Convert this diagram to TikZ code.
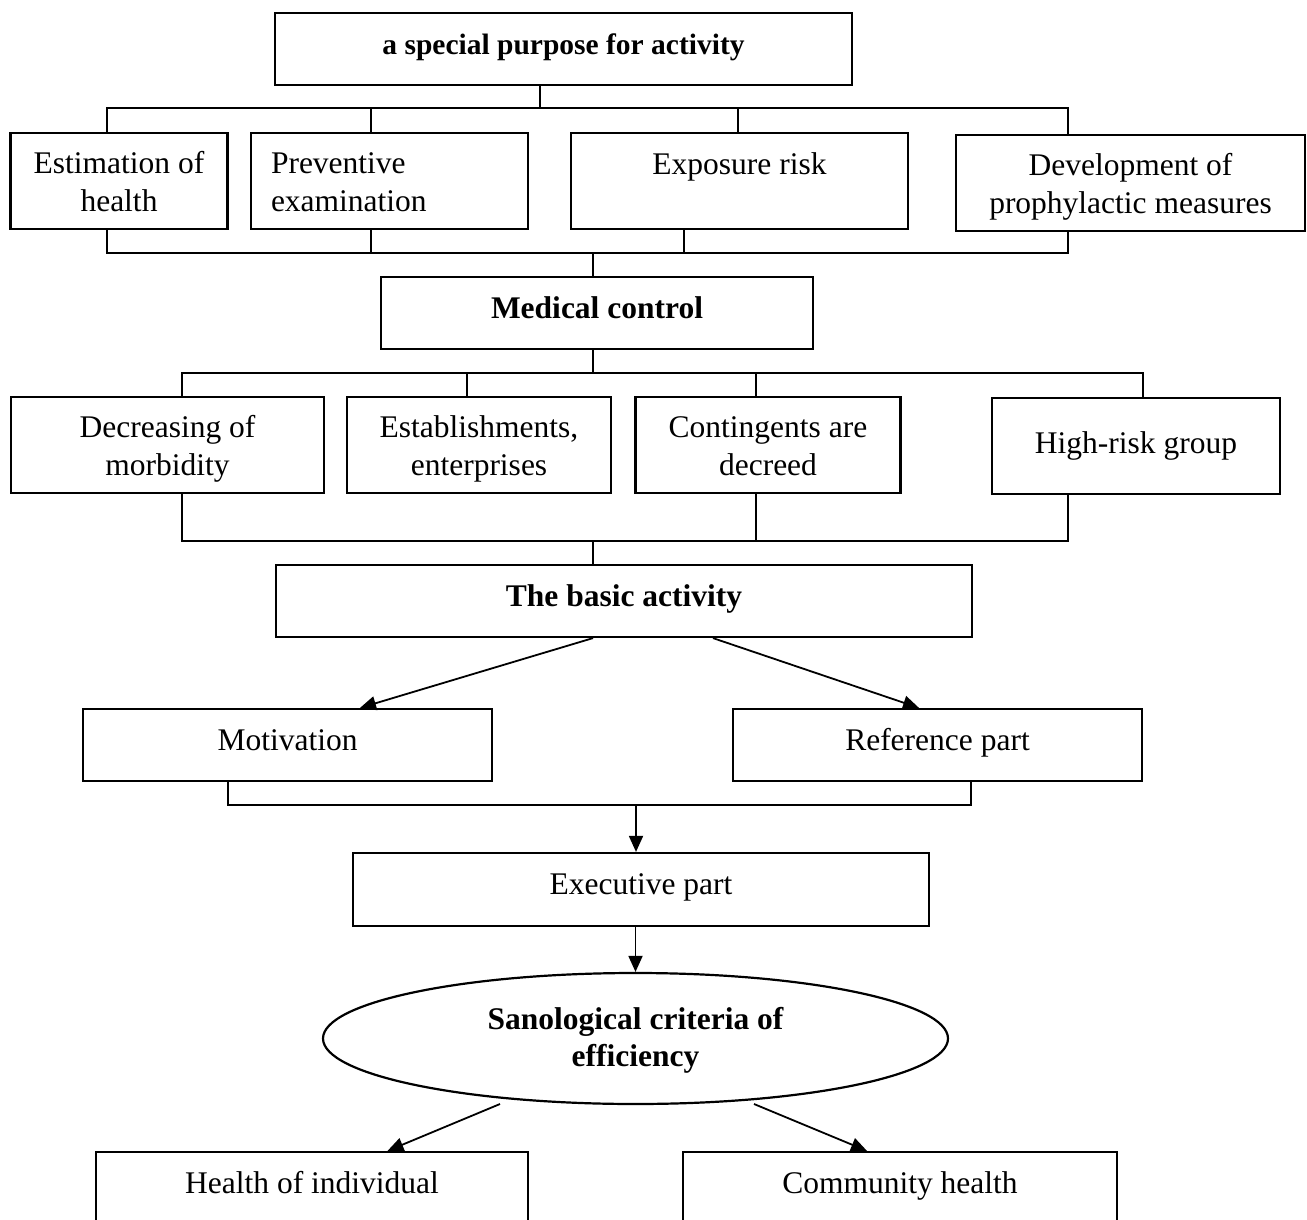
\documentclass[tikz,border=0pt]{standalone}
\usepackage{fontspec}
\setmainfont{Liberation Serif}
\usetikzlibrary{arrows.meta,shapes.geometric}

\begin{document}
\begin{tikzpicture}[x=1pt,y=-1pt,
  every node/.style={font=\fontsize{31.5}{38}\selectfont},
  box/.style={draw,line width=2.2pt,rectangle,inner sep=0pt,align=center,minimum width=#1},
  hdr/.style={box=#1,font=\fontsize{31.5}{38}\selectfont\bfseries},
  % one line of text, baseline about 41.7pt below the top edge
  tall/.style={text height=41.7pt,text depth=54.3pt},
  flat/.style={text height=41.7pt,text depth=30.3pt},
  % two centred lines: the box reference is the last baseline
  pair/.style={text height=78.5pt,text depth=17.5pt},
  link/.style={line width=2pt},
  arrow/.style={line width=1.8pt,-{Triangle[length=16pt,width=14pt]}}]

\useasboundingbox (0,0) rectangle (1307,1220);
\clip (0,0) rectangle (1307,1220);

% --- top level
\node[hdr=577pt,flat,font=\fontsize{29.5}{36}\selectfont\bfseries]
  (top) at (563.5,49) {a special purpose for activity};

% --- first row of tasks
\node[box=217pt,pair] (est) at (119,181) {Estimation of\\health};
\node[box=277pt,text height=40.5pt,text depth=55.5pt,inner xsep=20pt,text width=237pt,align=left]
  (prev) at (389.5,181) {Preventive\\examination};
\node[box=337pt,tall] (expo) at (739.5,181) {Exposure risk};
\node[box=349pt,pair] (dev) at (1130.5,183) {Development of\\prophylactic measures};

% --- medical control
\node[hdr=432pt,flat] (med) at (597,313) {Medical control};

% --- second row
\node[box=313pt,pair] (decr) at (167.5,445) {Decreasing of\\morbidity};
\node[box=264pt,pair] (estab) at (479,445) {Establishments,\\enterprises};
\node[box=265pt,pair] (cont) at (768,445) {Contingents are\\decreed};
\node[box=288pt,text height=55pt,text depth=41pt] (high) at (1136,446) {High-risk group};

% --- basic activity and its parts
\node[hdr=696pt,flat] (basic) at (624,601) {The basic activity};
\node[box=409pt,flat] (motiv) at (287.5,745) {Motivation};
\node[box=409pt,flat] (ref) at (937.5,745) {Reference part};
\node[box=576pt,text height=41pt,text depth=32pt] (exec) at (641,889.5) {Executive part};

% --- criteria
\node[draw,line width=2.2pt,ellipse,inner sep=0pt,minimum width=625pt,minimum height=131pt,
  align=center,font=\fontsize{31.5}{37}\selectfont\bfseries,
  text height=60pt,text depth=3.6pt] (crit) at (635.5,1038.5)
  {Sanological criteria of\\efficiency};
\node[box=432pt,flat] (hind) at (312,1188) {Health of individual};
\node[box=434pt,flat] (comm) at (900,1188) {Community health};

% --- bus under the top box
\coordinate (j1) at (540,108);
\coordinate (ea) at (107,108);
\coordinate (pa) at (371,108);
\coordinate (xa) at (738,108);
\coordinate (da) at (1068,108);
\draw[link] (top.south -| j1) -- (j1);
\draw[link] (est.north -| ea) -- (ea) -- (da) -- (dev.north -| da);
\draw[link] (pa) -- (prev.north -| pa);
\draw[link] (xa) -- (expo.north -| xa);

% --- bus into medical control
\coordinate (eb) at (107,253);
\coordinate (pb) at (371,253);
\coordinate (xb) at (683.5,253);
\coordinate (db) at (1068,253);
\coordinate (j2) at (593,253);
\draw[link] (est.south -| eb) -- (eb) -- (db) -- (dev.south -| db);
\draw[link] (prev.south -| pb) -- (pb);
\draw[link] (expo.south -| xb) -- (xb);
\draw[link] (j2) -- (med.north -| j2);

% --- bus under medical control
\coordinate (j3) at (593,373);
\coordinate (ma) at (182,373);
\coordinate (sa) at (467,373);
\coordinate (ca) at (755.5,373);
\coordinate (ha) at (1143,373);
\draw[link] (med.south -| j3) -- (j3);
\draw[link] (decr.north -| ma) -- (ma) -- (ha) -- (high.north -| ha);
\draw[link] (sa) -- (estab.north -| sa);
\draw[link] (ca) -- (cont.north -| ca);

% --- bus into the basic activity
\coordinate (mb) at (182,541);
\coordinate (cb) at (755.5,541);
\coordinate (hb) at (1068,541);
\coordinate (j4) at (593,541);
\draw[link] (decr.south -| mb) -- (mb) -- (hb) -- (high.south -| hb);
\draw[link] (cont.south -| cb) -- (cb);
\draw[link] (j4) -- (basic.north -| j4);

% --- arrows to motivation and reference part
\coordinate (bl) at (593,0);
\coordinate (br) at (713,0);
\coordinate (tl) at (360,0);
\coordinate (tr) at (919,0);
\draw[arrow] (basic.south -| bl) -- (motiv.north -| tl);
\draw[arrow] (basic.south -| br) -- (ref.north -| tr);

% --- join into executive part
\coordinate (mc) at (227.5,805);
\coordinate (rc) at (971,805);
\coordinate (j5) at (636,805);
\draw[link] (motiv.south -| mc) -- (mc) -- (rc) -- (ref.south -| rc);
\draw[arrow] (j5) -- (exec.north -| j5);

% --- executive part to criteria
\draw[arrow] (crit.north |- exec.south) -- (crit.north);

% --- criteria to the two kinds of health
\coordinate (cl) at (500,1104);
\coordinate (cr) at (754,1104);
\coordinate (hl) at (387.5,0);
\coordinate (hr) at (867,0);
\draw[arrow] (cl) -- (hind.north -| hl);
\draw[arrow] (cr) -- (comm.north -| hr);

\end{tikzpicture}
\end{document}
